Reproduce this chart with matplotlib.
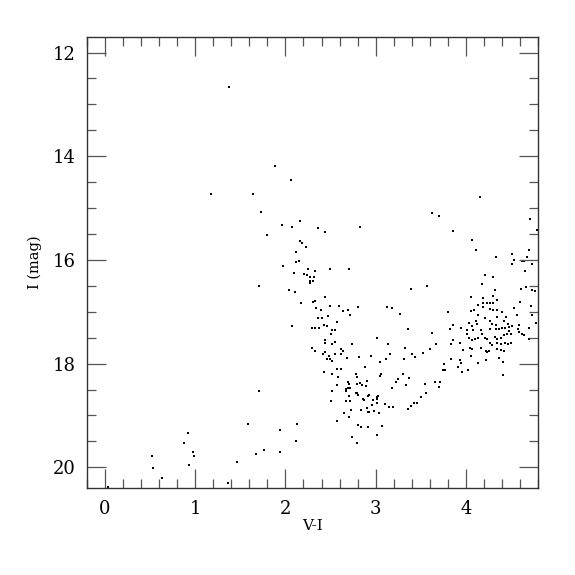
import matplotlib
matplotlib.use('Agg')
import matplotlib.pyplot as plt
from matplotlib.ticker import MultipleLocator

# V-I colour and I magnitude of each star
vi = [
    1.373, 1.881, 2.063, 1.178, 1.644, 4.152, 1.730, 3.622, 3.704, 4.708,
    2.163, 1.959, 2.071, 2.363, 2.830, 1.797, 2.444, 2.163, 2.186, 2.230,
    2.122, 2.122, 2.152, 1.971, 2.252, 2.333, 2.497, 2.708, 2.093, 2.204,
    2.244, 2.274, 2.319, 2.304, 2.271, 2.271, 1.708, 2.041, 2.108, 2.438,
    2.178, 2.304, 2.333, 2.489, 2.593, 2.337, 2.397, 2.637, 2.693, 2.804,
    3.127, 3.185, 3.267, 2.711, 2.467, 2.356, 2.404, 2.574, 2.071, 2.289,
    2.330, 2.371, 2.422, 2.463, 2.515, 2.548, 2.500, 3.019, 2.438, 2.438,
    2.548, 2.515, 2.733, 3.137, 2.297, 2.330, 2.444, 2.419, 2.619, 2.637,
    2.544, 2.615, 2.478, 2.497, 2.456, 2.519, 2.678, 2.815, 2.948, 3.156,
    3.115, 3.048, 2.885, 2.574, 2.615,
    2.431, 2.515, 2.582, 2.786, 2.797, 3.056, 3.048, 3.304, 3.371, 3.245,
    3.230, 3.337, 3.185, 2.900, 2.693, 2.700, 2.789, 2.830, 2.845, 2.893,
    2.571, 2.671, 2.689, 2.719, 2.676, 1.704, 2.519, 2.778, 2.808, 2.789,
    2.708, 2.863, 2.911, 2.930, 2.874, 2.967, 3.015, 3.026, 3.011, 2.508,
    2.671, 2.719, 2.956, 3.019, 3.108, 3.145, 3.189, 3.427, 3.460, 3.397,
    3.363, 2.900, 2.837, 2.730, 2.915, 2.930, 2.985, 3.037, 2.645, 2.708,
    2.571, 2.804, 2.837, 2.911, 3.071, 2.126, 1.944, 3.019, 2.733, 2.789,
    2.119, 1.763, 1.670, 1.944,
    4.793, 3.860, 4.071, 4.111, 4.333, 4.508, 4.533, 4.511, 4.619, 4.644,
    4.682, 4.704, 4.738, 4.656, 4.208, 4.304, 4.174, 3.570, 3.389, 4.667,
    4.615, 4.730, 4.771, 4.319, 4.304, 4.189, 4.052, 4.348, 4.186, 4.271,
    4.300, 4.234, 4.134, 4.193, 4.089, 4.056, 4.263, 4.300, 4.348, 4.530,
    4.604, 4.726, 3.797, 4.404, 4.134, 4.567, 4.730, 4.111, 4.215, 4.263,
    4.441, 4.341, 4.422, 4.037, 4.126, 3.856, 4.289, 4.337, 4.467, 4.511,
    4.593, 4.782, 3.360, 3.819, 3.949, 4.015, 4.063, 4.082, 4.171, 4.174,
    4.267, 4.333, 4.370, 4.396, 4.437, 4.474, 4.478, 4.459, 4.422, 4.496,
    4.574, 4.593, 4.619, 4.641, 4.697, 4.704, 3.622, 4.015, 4.037, 4.071,
    4.097, 4.137, 4.208, 4.237, 4.319, 4.348, 4.389, 4.433, 4.467, 4.504,
    4.385, 4.341, 4.293, 4.263, 3.860, 3.837, 3.933, 3.670, 4.045, 4.063,
    3.974, 4.171, 4.219, 4.234, 4.260, 4.344, 4.393, 4.422, 3.322, 3.600,
    3.313, 3.404, 3.437, 3.530, 4.056, 3.837, 3.933, 3.941, 4.134, 4.223,
    4.367, 4.407, 3.908, 3.956, 4.022, 3.763, 3.745, 3.774, 4.411, 3.552,
    3.659, 3.719, 3.704,
    1.589, 0.919, 0.874, 0.974, 0.982, 0.926, 0.519, 0.533, 0.630, 1.467,
    1.363, 0.037,
    3.560, 3.508,
]

imag = [
    12.66, 14.18, 14.46, 14.72, 14.72, 14.79, 15.07, 15.09, 15.16, 15.22,
    15.25, 15.32, 15.36, 15.38, 15.36, 15.51, 15.47, 15.63, 15.68, 15.75,
    15.85, 16.04, 16.02, 16.12, 16.17, 16.21, 16.17, 16.17, 16.25, 16.27,
    16.30, 16.33, 16.33, 16.41, 16.41, 16.45, 16.50, 16.59, 16.61, 16.71,
    16.84, 16.82, 16.80, 16.89, 16.88, 16.93, 16.97, 16.99, 16.97, 16.91,
    16.91, 16.93, 17.05, 17.07, 17.08, 17.13, 17.13, 17.19, 17.28, 17.31,
    17.31, 17.31, 17.26, 17.28, 17.35, 17.35, 17.43, 17.51, 17.55, 17.60,
    17.59, 17.63, 17.62, 17.62, 17.70, 17.76, 17.77, 17.82, 17.72, 17.76,
    17.81, 17.82, 17.86, 17.91, 17.92, 17.95, 17.89, 17.87, 17.86, 17.81,
    17.91, 17.96, 18.07, 18.10, 18.10,
    18.16, 18.21, 18.25, 18.21, 18.25, 18.20, 18.24, 18.20, 18.27, 18.30,
    18.36, 18.42, 18.47, 18.34, 18.36, 18.40, 18.39, 18.37, 18.41, 18.44,
    18.41, 18.49, 18.48, 18.48, 18.52, 18.53, 18.53, 18.57, 18.60, 18.56,
    18.63, 18.68, 18.62, 18.60, 18.70, 18.71, 18.65, 18.63, 18.69, 18.72,
    18.72, 18.72, 18.79, 18.76, 18.77, 18.83, 18.83, 18.76, 18.76, 18.81,
    18.87, 18.85, 18.90, 18.89, 18.94, 18.94, 18.92, 18.96, 18.96, 19.03,
    19.10, 19.19, 19.23, 19.23, 19.21, 19.16, 19.29, 19.37, 19.41, 19.54,
    19.50, 19.66, 19.74, 19.70,
    15.43, 15.44, 15.62, 15.80, 15.95, 15.89, 16.01, 16.08, 16.02, 16.03,
    15.94, 15.81, 16.08, 16.22, 16.30, 16.33, 16.46, 16.50, 16.57, 16.52,
    16.57, 16.58, 16.60, 16.58, 16.70, 16.74, 16.72, 16.78, 16.83, 16.83,
    16.84, 16.84, 16.87, 16.91, 16.96, 16.99, 16.94, 16.96, 16.97, 16.93,
    16.81, 16.88, 17.00, 17.01, 17.07, 17.07, 17.06, 17.17, 17.13, 17.18,
    17.10, 17.10, 17.17, 17.22, 17.24, 17.26, 17.24, 17.25, 17.23, 17.27,
    17.25, 17.21, 17.34, 17.34, 17.31, 17.35, 17.28, 17.36, 17.36, 17.42,
    17.33, 17.34, 17.33, 17.31, 17.31, 17.29, 17.38, 17.43, 17.45, 17.42,
    17.33, 17.40, 17.42, 17.44, 17.31, 17.52, 17.41, 17.42, 17.50, 17.54,
    17.52, 17.51, 17.50, 17.53, 17.49, 17.52, 17.50, 17.60, 17.62, 17.60,
    17.62, 17.60, 17.65, 17.60, 17.54, 17.62, 17.61, 17.62, 17.69, 17.72,
    17.74, 17.69, 17.76, 17.78, 17.76, 17.72, 17.73, 17.76, 17.70, 17.71,
    17.91, 17.82, 17.88, 17.80, 17.86, 17.92, 17.94, 17.98, 17.99, 17.94,
    17.89, 17.97, 18.07, 18.16, 18.13, 18.01, 18.13, 18.13, 18.22, 18.40,
    18.36, 18.35, 18.45,
    19.16, 19.33, 19.53, 19.70, 19.79, 19.95, 19.79, 20.01, 20.20, 19.90,
    20.30, 20.39,
    18.56, 18.65,
]

x_major = [0, 1, 2, 3, 4]
y_major = [12, 14, 16, 18, 20]

plt.rcParams['font.family'] = ['DejaVu Serif']

fig = plt.figure(figsize=(5.75, 5.75), dpi=100)
ax = fig.add_axes([87 / 575, 1 - 488 / 575, 451 / 575, 451 / 575])

ax.scatter(vi, imag, s=2.4, c='black', marker='s', linewidths=0, clip_on=False)

ax.set_xlim(-0.2, 4.8)
ax.set_ylim(20.4, 11.7)
ax.set_xticks(x_major)
ax.set_yticks(y_major)
ax.xaxis.set_minor_locator(MultipleLocator(0.2))
ax.yaxis.set_minor_locator(MultipleLocator(0.5))

for sp in ax.spines.values():
    sp.set_color('#333333')
    sp.set_linewidth(1.0)

ax.tick_params(which='both', direction='in', top=True, right=True,
               colors='#555555', width=0.9)
ax.tick_params(which='major', length=13.7, labelsize=13, labelcolor='black')
ax.tick_params(axis='x', which='major', pad=9)
ax.tick_params(axis='y', which='major', pad=8)
ax.tick_params(which='minor', length=6.8)

ax.set_xlabel('V-I', fontsize=11)
ax.set_ylabel('I (mag)', fontsize=10.5)
ax.xaxis.set_label_coords(0.5, (488 - 526) / 451)
ax.xaxis.label.set_va('center')
ax.yaxis.set_label_coords((35 - 87) / 451, 0.5)
ax.yaxis.label.set_va('center')

fig.savefig('out.png', dpi=100)
